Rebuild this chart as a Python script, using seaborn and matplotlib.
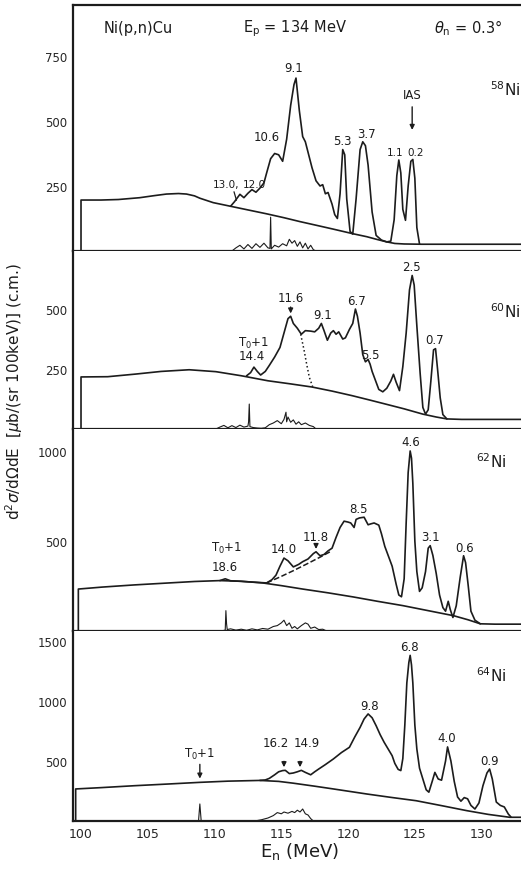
# Ni(p,n)Cu neutron spectra, Ep = 134 MeV, 0.3 deg (redrawn)
import matplotlib
matplotlib.use('Agg')
import matplotlib.pyplot as plt
import seaborn as sns

# ---------------- 58Ni ----------------
bg58_e = [100.0, 100.0, 101.5, 102.8, 104.4, 105.5, 106.4, 107.3, 107.9, 108.5, 108.9, 109.9, 111.2,
          112.5, 113.9, 115.2, 116.4, 117.7, 118.9, 120.4, 121.4, 122.2, 122.9, 123.5, 124.2, 125.5, 133.0]
bg58_y = [0, 196, 196, 198, 205, 213, 219, 221, 219, 212, 203, 186, 172,
          158, 143, 128, 113, 98, 84, 66, 55, 44, 35, 29, 27, 26, 26]
sp58_e = [111.2, 111.5, 111.9, 112.2, 112.5, 112.8, 113.1, 113.4, 113.7, 113.9, 114.2, 114.5, 114.8,
          115.1, 115.4, 115.7, 115.95, 116.1, 116.35, 116.6, 116.8, 117.0, 117.3, 117.6, 117.9, 118.1,
          118.3, 118.5, 118.8, 119.0, 119.2, 119.4, 119.6, 119.75, 119.9, 120.15, 120.35, 120.6, 120.9,
          121.1, 121.3, 121.5, 121.8, 122.1, 122.5, 122.9, 123.2, 123.45, 123.65, 123.8, 123.95, 124.1,
          124.3, 124.5, 124.7, 124.85, 125.0, 125.15, 125.35]
sp58_y = [172, 190, 218, 205, 222, 236, 226, 242, 262, 300, 355, 375, 370,
          345, 430, 560, 640, 665, 540, 440, 420, 380, 320, 270, 250, 255,
          220, 225, 180, 140, 125, 220, 390, 370, 200, 75, 65, 200, 390,
          420, 405, 330, 150, 60, 42, 35, 38, 120, 290, 350, 300, 160,
          118, 250, 345, 352, 280, 90, 27]
rs58_e = [111.3, 111.6, 111.9, 112.2, 112.5, 112.8, 113.1, 113.4, 113.7, 114.0, 114.15, 114.2, 114.25,
          114.5, 114.8, 115.1, 115.4, 115.6, 115.8, 116.0, 116.2, 116.4, 116.6, 116.8, 117.0, 117.2,
          117.4, 117.6]
rs58_y = [0, 12, 22, 8, 25, 10, 28, 14, 30, 12, 10, 130, 8,
          22, 15, 28, 20, 45, 30, 40, 18, 35, 12, 30, 8, 22, 5, 0]

# ---------------- 60Ni ----------------
bg60_e = [100.0, 100.0, 102.0, 104.1, 106.0, 108.1, 110.1, 112.0, 114.0, 115.7, 117.3, 118.8, 120.3,
          121.6, 122.8, 124.2, 125.6, 126.6, 127.4, 128.5, 133.0]
bg60_y = [0, 217, 218, 229, 240, 247, 239, 222, 201, 188, 175, 158, 139,
          121, 104, 84, 62, 50, 42, 40, 40]
sp60_e = [112.4, 112.7, 112.95, 113.2, 113.45, 113.8, 114.1, 114.5, 114.9, 115.25, 115.5, 115.7, 115.9,
          116.2, 116.5, 116.8, 117.2, 117.5, 117.8, 118.0, 118.2, 118.45, 118.7, 118.9, 119.1, 119.3,
          119.6, 119.8, 120.1, 120.35, 120.55, 120.7, 120.9, 121.1, 121.3, 121.5, 121.65, 121.8, 122.0,
          122.3, 122.6, 122.9, 123.2, 123.4, 123.6, 123.85, 124.1, 124.35, 124.6, 124.8, 124.95, 125.15,
          125.4, 125.6, 125.8, 126.0, 126.2, 126.4, 126.55, 126.7, 126.9, 127.1, 127.4]
sp60_y = [222, 235, 258, 240, 225, 240, 265, 300, 340, 410, 460, 470, 440,
          420, 395, 410, 408, 405, 420, 440, 410, 370, 400, 410, 395, 405,
          375, 380, 415, 440, 500, 470, 400, 310, 280, 290, 270, 240, 210,
          165, 155, 170, 200, 228, 195, 160, 260, 400, 580, 640, 600, 430,
          230, 90, 62, 80, 200, 330, 335, 250, 130, 60, 42]
dt60_e = [116.45, 116.7, 116.9, 117.1, 117.35]
dt60_y = [395, 330, 270, 215, 176]
rs60_e = [110.1, 110.4, 110.7, 111.0, 111.3, 111.6, 111.9, 112.2, 112.5, 112.55, 112.6, 112.65, 112.9,
          113.2, 113.5, 113.8, 114.1, 114.4, 114.7, 115.0, 115.2, 115.35, 115.4, 115.5, 115.7, 115.9,
          116.1, 116.3, 116.5, 116.8, 117.1, 117.4, 117.6]
rs60_y = [0, 8, 15, 5, 14, 6, 16, 8, 12, 30, 104, 10, 6,
          4, 3, 5, 18, 25, 35, 22, 40, 70, 30, 50, 28, 38,
          20, 30, 18, 25, 15, 10, 0]

# ---------------- 62Ni ----------------
bg62_e = [99.8, 99.8, 101.6, 104.0, 106.6, 108.5, 110.4, 112.0, 113.6, 115.0, 116.6, 118.5, 120.4,
          122.2, 124.1, 126.0, 127.9, 129.0, 129.9, 131.0, 133.0]
bg62_y = [0, 233, 244, 256, 267, 275, 280, 276, 267, 252, 233, 212, 189,
          165, 141, 113, 85, 62, 40, 38, 38]
sp62_e = [110.4, 110.8, 111.2, 112.0, 113.0, 113.9, 114.3, 114.6, 114.9, 115.2, 115.5, 115.9, 116.3,
          116.6, 117.0, 117.4, 117.6, 117.9, 118.2, 118.5, 118.8, 119.1, 119.4, 119.7, 120.0, 120.2,
          120.45, 120.6, 120.85, 121.2, 121.5, 121.7, 121.95, 122.3, 122.5, 122.75, 123.0, 123.3, 123.6,
          123.8, 124.0, 124.2, 124.35, 124.5, 124.65, 124.75, 124.85, 125.0, 125.15, 125.35, 125.55,
          125.8, 126.0, 126.15, 126.35, 126.6, 126.85, 127.1, 127.3, 127.5, 127.65, 127.85, 128.1, 128.4,
          128.65, 128.8, 129.0, 129.2, 129.5, 129.9]
sp62_y = [280, 290, 279, 276, 271, 267, 285, 310, 360, 405, 390, 356, 370,
          385, 400, 430, 440, 418, 425, 445, 460, 520, 575, 610, 605, 600,
          575, 620, 628, 632, 590, 595, 600, 588, 540, 470, 420, 360, 260,
          200, 190, 290, 600, 880, 1000, 960, 820, 500, 330, 220, 240,
          330, 460, 474, 420, 320, 200, 130, 110, 165, 120, 75, 140, 300,
          418, 380, 250, 110, 60, 40]
ds62_e = [113.9, 114.9, 115.9, 116.9, 117.9, 118.7]
ds62_y = [267, 300, 335, 372, 410, 442]
rs62_e = [110.5, 110.8, 110.85, 110.9, 110.95, 111.2, 111.6, 112.0, 112.4, 112.8, 113.2, 113.6, 114.0,
          114.4, 114.7, 115.0, 115.2, 115.4, 115.6, 115.8, 116.0, 116.2, 116.5, 116.8, 117.0, 117.2,
          117.5, 117.8, 118.1, 118.4]
rs62_y = [0, 5, 113, 40, 8, 12, 5, 10, 4, 12, 6, 14, 10,
          25, 30, 45, 60, 30, 45, 15, 25, 12, 30, 45, 38, 15,
          22, 8, 10, 0]

# ---------------- 64Ni ----------------
bg64_e = [99.6, 99.6, 101.5, 104.0, 106.5, 108.9, 111.0, 113.4, 114.8, 115.9, 117.5, 118.9, 121.4,
          123.2, 125.1, 127.0, 128.9, 130.5, 132.1, 133.0]
bg64_y = [0, 267, 278, 294, 308, 322, 332, 338, 330, 315, 290, 267, 225,
          197, 169, 128, 86, 55, 31, 31]
sp64_e = [113.4, 113.8, 114.1, 114.5, 114.8, 115.1, 115.3, 115.6, 115.9, 116.2, 116.5, 116.8, 117.2,
          117.5, 117.8, 118.3, 118.9, 119.5, 120.1, 120.5, 120.9, 121.2, 121.5, 121.8, 122.1, 122.4,
          122.7, 123.0, 123.3, 123.5, 123.75, 123.95, 124.1, 124.25, 124.4, 124.55, 124.65, 124.75,
          124.85, 125.0, 125.15, 125.35, 125.6, 125.85, 126.05, 126.3, 126.5, 126.75, 127.0, 127.3,
          127.45, 127.7, 127.95, 128.2, 128.45, 128.7, 128.95, 129.2, 129.5, 129.8, 130.1, 130.4, 130.6,
          130.8, 131.1, 131.4, 131.7, 132.0, 132.2]
sp64_y = [338, 342, 355, 385, 410, 420, 422, 395, 400, 410, 422, 405, 385,
          410, 433, 470, 517, 570, 614, 700, 780, 850, 892, 860, 794, 720,
          656, 600, 544, 480, 430, 420, 520, 800, 1150, 1320, 1380, 1300,
          1150, 800, 600, 440, 350, 260, 240, 330, 405, 350, 340, 500,
          617, 500, 330, 200, 165, 195, 185, 130, 100, 150, 294, 400, 433,
          350, 158, 130, 117, 58, 33]
rs64_e = [108.8, 108.9, 109.0, 113.0, 113.5, 114.0, 114.4, 114.7, 115.0, 115.2, 115.5, 115.8, 116.0,
          116.2, 116.4, 116.6, 116.8, 117.0, 117.2, 117.4]
rs64_y = [0, 142, 0, 0, 10, 25, 45, 70, 60, 75, 65, 80, 70,
          90, 75, 100, 60, 50, 20, 0]

ylims = [946, 742, 1122, 1583]
yticks = [[250, 500, 750], [250, 500], [500, 1000], [500, 1000, 1500]]
xticks = [100, 105, 110, 115, 120, 125, 130]
isotopes = ['58', '60', '62', '64']

sns.set_style('white')
plt.rcParams['font.family'] = ['DejaVu Sans']
ink = '#1c1c1c'

fig = plt.figure(figsize=(5.21, 8.70), dpi=100)
W, H = 521, 870
bounds = [(6, 252), (252, 430), (430, 632), (632, 822)]
axes = []
for top, bot in bounds:
    ax = fig.add_axes([73 / W, 1 - bot / H, 448 / W, (bot - top) / H])
    axes.append(ax)


def line(ax, e, y, lw=1.2, ls='-'):
    sns.lineplot(x=e, y=y, ax=ax, sort=False, estimator=None, color=ink,
                 lw=lw, linestyle=ls, legend=False)


panels = [
    (bg58_e, bg58_y, sp58_e, sp58_y, rs58_e, rs58_y),
    (bg60_e, bg60_y, sp60_e, sp60_y, rs60_e, rs60_y),
    (bg62_e, bg62_y, sp62_e, sp62_y, rs62_e, rs62_y),
    (bg64_e, bg64_y, sp64_e, sp64_y, rs64_e, rs64_y),
]
for i, (ax, p) in enumerate(zip(axes, panels)):
    line(ax, p[0], p[1])
    line(ax, p[2], p[3])
    line(ax, p[4], p[5], lw=0.8)
    ax.set_xlim(99.4, 132.95)
    ax.set_ylim(0, ylims[i])
    ax.set_xticks(xticks)
    ax.set_yticks(yticks[i])
    ax.set_xlabel('')
    ax.set_ylabel('')
    for s in ['left', 'bottom', 'top']:
        ax.spines[s].set_color(ink)
        ax.spines[s].set_linewidth(1.6)
    ax.spines['right'].set_visible(False)
    ax.spines['top'].set_visible(i == 0)
    ax.tick_params(axis='x', direction='in', length=5, width=1.2, color=ink,
                   labelbottom=(i == 3), labelsize=9, pad=4)
    ax.tick_params(axis='y', direction='inout', length=6, width=1.2, color=ink,
                   labelsize=8.5, pad=1)
    ax.text(129.6 if i > 1 else 130.6, [623, 492, 944, 1217][i],
            r'$^{%s}$Ni' % isotopes[i], fontsize=11, ha='left', va='center', color=ink)

line(axes[1], dt60_e, dt60_y, lw=1.1, ls=':')
line(axes[2], ds62_e, ds62_y, lw=1.1, ls='--')

txt = dict(fontsize=8.5, ha='center', va='bottom', color=ink)
small = dict(txt, fontsize=7.5)
arr = dict(arrowstyle='-|>', color=ink, lw=1.0, mutation_scale=7)

# header
a = axes[0]
a.text(104.3, 860, 'Ni(p,n)Cu', fontsize=10.5, ha='center', va='center', color=ink)
a.text(116.0, 860, r'E$_\mathrm{p}$ = 134 MeV', fontsize=10.5, ha='center', va='center', color=ink)
a.text(129.0, 860, r'$\theta_\mathrm{n}$ = 0.3°', fontsize=10.5, ha='center', va='center', color=ink)

# 58Ni labels
for s, e, v in [('9.1', 115.9, 680), ('10.6', 113.9, 415), ('5.3', 119.6, 400),
                ('3.7', 121.4, 425)]:
    a.text(e, v, s, **txt)
a.text(123.5, 362, '1.1', **small)
a.text(125.05, 362, '0.2', **small)
a.text(110.9, 240, '13.0,', **small)
a.text(113.0, 240, '12.0', **small)
a.annotate('', xy=(111.7, 185), xytext=(111.4, 238), arrowprops=dict(arrowstyle='-', color=ink, lw=0.9))
a.text(124.8, 575, 'IAS', **txt)
a.annotate('', xy=(124.8, 455), xytext=(124.8, 565), arrowprops=arr)

# 60Ni labels
a = axes[1]
for s, e, v in [('2.5', 124.75, 650), ('0.7', 126.5, 345), ('9.1', 118.1, 450),
                ('6.7', 120.6, 510), ('5.5', 121.7, 285), ('14.4', 112.8, 280)]:
    a.text(e, v, s, **txt)
a.text(112.95, 330, r'T$_0$+1', **txt)
a.text(115.7, 520, '11.6', **txt)
a.annotate('', xy=(115.7, 470), xytext=(115.7, 520), arrowprops=arr)

# 62Ni labels
a = axes[2]
for s, e, v in [('4.6', 124.7, 1015), ('3.1', 126.2, 490), ('0.6', 128.7, 430),
                ('8.5', 120.8, 645), ('14.0', 115.2, 420), ('18.6', 110.8, 320)]:
    a.text(e, v, s, **txt)
a.text(110.9, 420, r'T$_0$+1', **txt)
a.text(117.6, 490, '11.8', **txt)
a.annotate('', xy=(117.6, 440), xytext=(117.6, 490), arrowprops=arr)

# 64Ni labels
a = axes[3]
for s, e, v in [('6.8', 124.6, 1400), ('9.8', 121.6, 905), ('4.0', 127.4, 640),
                ('0.9', 130.6, 450)]:
    a.text(e, v, s, **txt)
a.text(114.6, 600, '16.2', **txt)
a.text(116.9, 600, '14.9', **txt)
a.annotate('', xy=(115.2, 425), xytext=(115.2, 520), arrowprops=arr)
a.annotate('', xy=(116.4, 425), xytext=(116.4, 520), arrowprops=arr)
a.text(108.9, 500, r'T$_0$+1', **txt)
a.annotate('', xy=(108.9, 330), xytext=(108.9, 495), arrowprops=arr)

fig.text(14 / W, 1 - 392 / H,
         r'd$^2\sigma$/d$\Omega$dE  [$\mu$b/(sr 100keV)] (c.m.)',
         rotation=90, fontsize=11, ha='center', va='center', color=ink)
fig.text(300 / W, 1 - 852 / H, r'E$_\mathrm{n}$ (MeV)', fontsize=13,
         ha='center', va='center', color=ink)

fig.savefig('out.png', dpi=100)
